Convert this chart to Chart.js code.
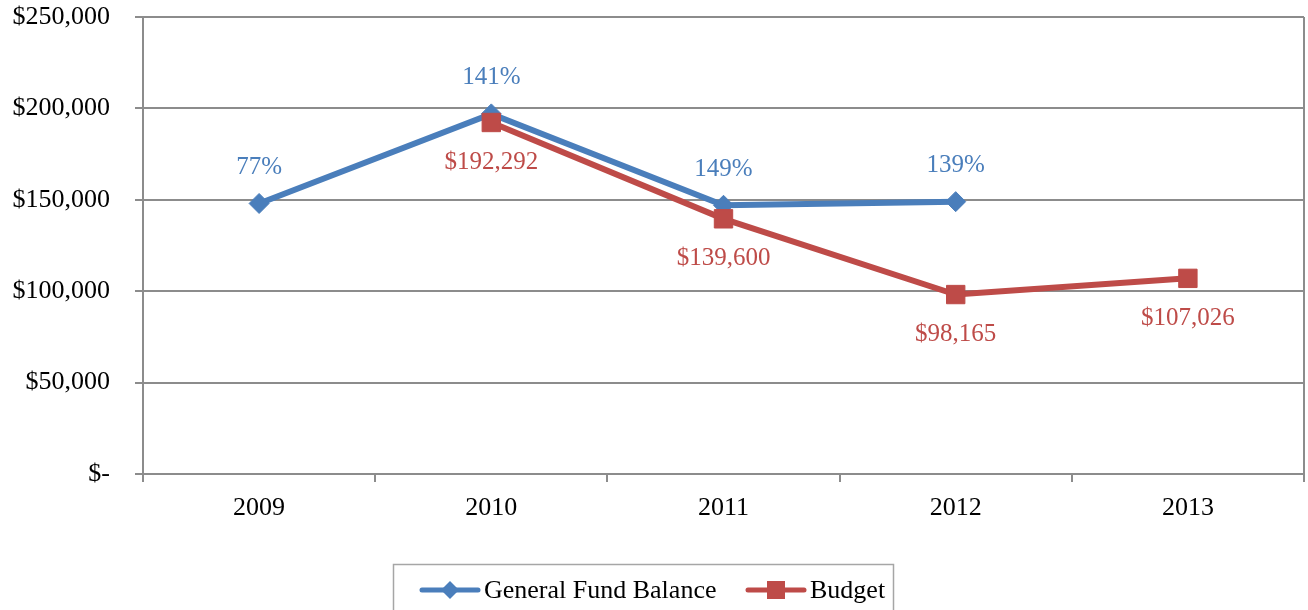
<!DOCTYPE html>
<html>
<head>
<meta charset="utf-8">
<script src="https://cdn.jsdelivr.net/npm/chart.js@4/dist/chart.umd.min.js"></script>
<style>
  html, body { margin: 0; padding: 0; background: #fff; }
  #wrap { width: 1308px; height: 610px; position: relative; }
</style>
</head>
<body>
<div id="wrap"><canvas id="fundChart" width="1308" height="610"></canvas></div>
<script>
const years = ["2009", "2010", "2011", "2012", "2013"];
const fundBalance = [148000, 197000, 147000, 149000, null];
const fundPctLabels = ["77%", "141%", "149%", "139%", null];
const budget = [null, 192292, 139600, 98165, 107026];
const yTicks = [0, 50000, 100000, 150000, 200000, 250000];

const BLUE = "#4a7ebb";
const RED = "#be4b48";
const GRID = "#8c8c8c";
const FONT = "'Liberation Serif', 'Times New Roman', serif";

const money = v => v === 0 ? "$-" : "$" + v.toLocaleString("en-US");

// point labels drawn from each element's own position
const pointLabels = {
  id: "pointLabels",
  afterDatasetsDraw(chart) {
    const ctx = chart.ctx;
    ctx.save();
    ctx.font = "25px " + FONT;
    ctx.textAlign = "center";
    ctx.textBaseline = "middle";
    chart.data.datasets.forEach((ds, i) => {
      const meta = chart.getDatasetMeta(i);
      meta.data.forEach((pt, j) => {
        if (ds.data[j] == null) return;
        ctx.fillStyle = ds.borderColor;
        ctx.fillText(ds.labelTexts[j], pt.x, pt.y + ds.labelOffset);
      });
    });
    ctx.restore();
  }
};

// right frame line of the plot area
const rightFrame = {
  id: "rightFrame",
  beforeDatasetsDraw(chart) {
    const { ctx, chartArea } = chart;
    ctx.save();
    ctx.strokeStyle = GRID;
    ctx.lineWidth = 2;
    ctx.beginPath();
    ctx.moveTo(chartArea.right, chartArea.top);
    ctx.lineTo(chartArea.right, chartArea.bottom);
    ctx.stroke();
    ctx.restore();
  }
};

// boxed legend at the bottom, Excel style
const boxLegend = {
  id: "boxLegend",
  afterDraw(chart) {
    const ctx = chart.ctx;
    ctx.save();
    ctx.strokeStyle = "#a6a6a6";
    ctx.lineWidth = 1.5;
    ctx.strokeRect(393.5, 564.5, 500, 60);
    ctx.font = "26px " + FONT;
    ctx.textBaseline = "middle";
    const cy = 590;
    const items = [
      { x: 422, ds: chart.data.datasets[0] },
      { x: 748, ds: chart.data.datasets[1] }
    ];
    items.forEach(it => {
      const ds = it.ds;
      ctx.strokeStyle = ds.borderColor;
      ctx.lineWidth = 5;
      ctx.lineCap = "round";
      ctx.beginPath();
      ctx.moveTo(it.x, cy);
      ctx.lineTo(it.x + 56, cy);
      ctx.stroke();
      ctx.fillStyle = ds.borderColor;
      const mx = it.x + 28;
      ctx.beginPath();
      if (ds.pointStyle === "rectRot") {
        ctx.moveTo(mx - 9, cy);
        ctx.lineTo(mx, cy - 9);
        ctx.lineTo(mx + 9, cy);
        ctx.lineTo(mx, cy + 9);
      } else {
        ctx.rect(mx - 9, cy - 9, 18, 18);
      }
      ctx.closePath();
      ctx.fill();
      ctx.fillStyle = "#000";
      ctx.fillText(ds.label, it.x + 62, cy + 1);
    });
    ctx.restore();
  }
};

new Chart(document.getElementById("fundChart"), {
  type: "line",
  data: {
    labels: years,
    datasets: [
      {
        label: "General Fund Balance",
        data: fundBalance,
        labelTexts: fundPctLabels,
        labelOffset: -36,
        borderColor: BLUE,
        backgroundColor: BLUE,
        borderWidth: 6,
        pointStyle: "rectRot",
        pointRadius: 10,
        pointBorderWidth: 1,
        tension: 0,
        order: 2
      },
      {
        label: "Budget",
        data: budget,
        labelTexts: budget.map(v => v == null ? null : money(v)),
        labelOffset: 40,
        borderColor: RED,
        backgroundColor: RED,
        borderWidth: 6,
        pointStyle: "rect",
        pointRadius: 13,
        pointBorderWidth: 1,
        tension: 0,
        order: 1
      }
    ]
  },
  options: {
    responsive: false,
    animation: false,
    spanGaps: false,
    layout: { autoPadding: false, padding: { top: 17, right: 4, left: 0, bottom: 0 } },
    plugins: {
      legend: { display: false },
      tooltip: { enabled: false }
    },
    scales: {
      x: {
        offset: true,
        grid: {
          offset: true,
          drawOnChartArea: false,
          tickColor: GRID,
          lineWidth: 2,
          tickLength: 8
        },
        border: { color: GRID, width: 2 },
        ticks: { color: "#000", font: { family: FONT, size: 26 }, padding: 11 },
        afterFit: s => {
          s.height = 610 - 17 - 457;
          s.paddingLeft = 0;
          s.paddingRight = 0;
        }
      },
      y: {
        min: 0,
        max: 250000,
        afterBuildTicks: s => { s.ticks = yTicks.map(v => ({ value: v })); },
        grid: { color: GRID, lineWidth: 2, tickLength: 8 },
        border: { color: GRID, width: 2 },
        ticks: {
          color: "#000",
          font: { family: FONT, size: 26 },
          padding: 25,
          callback: v => money(v)
        },
        afterFit: s => {
          s.width = 143;
          s.paddingTop = 0;
          s.paddingBottom = 0;
        }
      }
    }
  },
  plugins: [rightFrame, pointLabels, boxLegend]
});
</script>
</body>
</html>
